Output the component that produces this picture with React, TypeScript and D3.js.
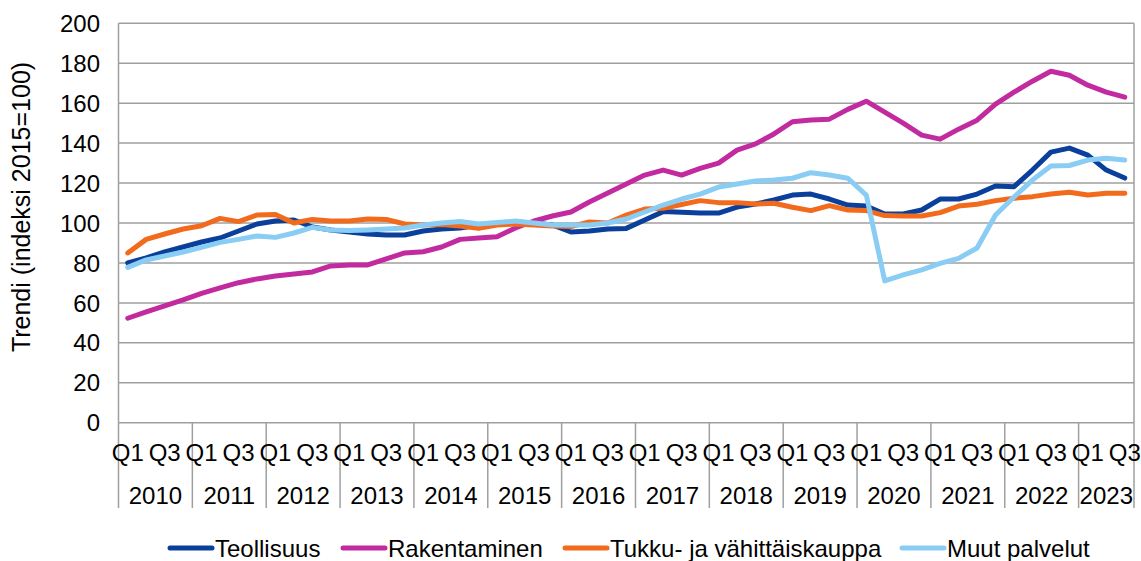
import React, { useEffect } from "react";
import * as d3 from "d3";

const years = ["2010","2011","2012","2013","2014","2015","2016","2017","2018","2019","2020","2021","2022","2023"];
const quartersPerYear = [4,4,4,4,4,4,4,4,4,4,4,4,4,3];
const yTicks = [0,20,40,60,80,100,120,140,160,180,200];

const teollisuus = [80,82.5,85.5,88,90.5,92.5,96,99.5,101,101.5,98,96.5,95.5,94.5,94,94,96,97,97.5,99,99.5,100.5,100,99,95.5,96,97,97.3,101.5,105.7,105.4,105,105,108,109.5,111.5,114,114.5,112,109,108.5,104.5,104.5,106.5,112,112,114.5,118.5,118.2,126.5,135.5,137.5,134,126.5,122.5];
const rakentaminen = [52.3,55.5,58.5,61.5,64.8,67.5,70.1,72,73.5,74.5,75.5,78.5,79,79,82,85,85.6,88,91.8,92.5,93.1,97.5,101,103.5,105.5,110.5,115,119.5,124,126.5,124,127.4,130,136.5,139.6,144.6,150.7,151.6,152,156.9,161,155.5,150,144,142,147,151.5,159.5,165.5,171,176,174,169,165.5,163];
const tukku = [85,91.8,94.5,97,98.6,102.3,100.7,104,104.3,100,101.8,101,101,102,101.8,99.5,99,99.3,98.5,97.3,99,99.5,99,98.5,98.2,100.5,100,104,107,107.4,109.3,111.2,110.2,110.2,109.5,109.9,107.9,106.2,108.7,106.5,106.2,103.7,103.5,103.5,105.2,108.5,109.4,111.2,112.4,113.2,114.5,115.4,114,114.9,114.9];
const muut = [77.8,81.5,83.5,85.5,87.8,90.3,91.8,93.5,92.8,95,97.8,96.5,96.2,96.5,97,97.5,99,100,100.7,99.5,100.2,101,100,99,99,99,100,102,105.5,109,112,114.5,118,119.5,121,121.5,122.4,125.2,124,122.4,114,71,74,76.5,79.8,82.3,87.5,104,113,121.5,128.5,128.8,131.5,132.4,131.5];

const seriesNames = ["Teollisuus","Rakentaminen","Tukku- ja vähittäiskauppa","Muut palvelut"];
const seriesColors = ["#0a3f9c","#c22b9f","#f26b1d","#8acdf4"];
const seriesData = [teollisuus, rakentaminen, tukku, muut];

const FONT = "'Liberation Sans', Arial, sans-serif";

export default function App() {
  useEffect(() => {
    document.body.style.margin = "0";
  }, []);

  const W = 1141, H = 561;
  const left = 118.5, right = 1134, top = 23.3, bottom = 422.7;

  const n = quartersPerYear.reduce((a, b) => a + b, 0);
  const idx = d3.range(n);
  const x = d3.scaleBand<number>().domain(idx).range([left, right]).paddingInner(0).paddingOuter(0);
  const y = d3.scaleLinear().domain([0, 200]).range([bottom, top]);
  const cx = (i: number) => (x(i) as number) + x.bandwidth() / 2;

  const line = d3.line<number>().x((_, i) => cx(i)).y((d) => y(d));

  const yearStarts: number[] = [];
  let acc = 0;
  quartersPerYear.forEach((q) => { yearStarts.push(acc); acc += q; });
  const boundaries = [...yearStarts, n];
  const bx = (b: number) => (b < n ? (x(b) as number) : right);

  const legendX = [170, 343, 565, 902];

  return (
    <svg width={W} height={H} style={{ display: "block", position: "absolute", left: 0, top: 0, background: "#fff" }} fontFamily={FONT}>
      <rect width={W} height={H} fill="#fff" />
      {yTicks.map((t) => (
        <line key={"g" + t} x1={left} x2={right} y1={y(t)} y2={y(t)} stroke="#9f9f9f" strokeWidth={1.5} />
      ))}
      <line x1={left} x2={left} y1={top} y2={bottom} stroke="#9f9f9f" strokeWidth={1.5} />
      <line x1={right} x2={right} y1={top} y2={bottom} stroke="#9f9f9f" strokeWidth={1.5} />
      {boundaries.map((b, k) => (
        <line key={"b" + k} x1={bx(b)} x2={bx(b)} y1={bottom} y2={508} stroke="#9f9f9f" strokeWidth={1.5} />
      ))}
      {yTicks.map((t) => (
        <text key={"yl" + t} x={100} y={y(t)} dy="0.36em" textAnchor="end" fontSize={24} fill="#000">{t}</text>
      ))}
      {yearStarts.map((s, k) => (
        <g key={"q" + k}>
          <text x={cx(s)} y={461} textAnchor="middle" fontSize={24} fill="#000">Q1</text>
          {quartersPerYear[k] >= 3 && (
            <text x={cx(s + 2)} y={461} textAnchor="middle" fontSize={24} fill="#000">Q3</text>
          )}
          <text x={(bx(boundaries[k]) + bx(boundaries[k + 1])) / 2} y={504} textAnchor="middle" fontSize={24} fill="#000">{years[k]}</text>
        </g>
      ))}
      <text transform={`translate(30,207) rotate(-90)`} textAnchor="middle" fontSize={25} fill="#000">Trendi (indeksi 2015=100)</text>
      {seriesData.map((d, k) => (
        <path key={"s" + k} d={line(d) || ""} fill="none" stroke={seriesColors[k]} strokeWidth={5} strokeLinejoin="round" strokeLinecap="round" />
      ))}
      {seriesNames.map((nm, k) => (
        <g key={"lg" + k}>
          <line x1={legendX[k]} x2={legendX[k] + 42} y1={548} y2={548} stroke={seriesColors[k]} strokeWidth={5} strokeLinecap="round" />
          <text x={legendX[k] + 45} y={548} dy="0.36em" fontSize={24} fill="#000">{nm}</text>
        </g>
      ))}
    </svg>
  );
}
